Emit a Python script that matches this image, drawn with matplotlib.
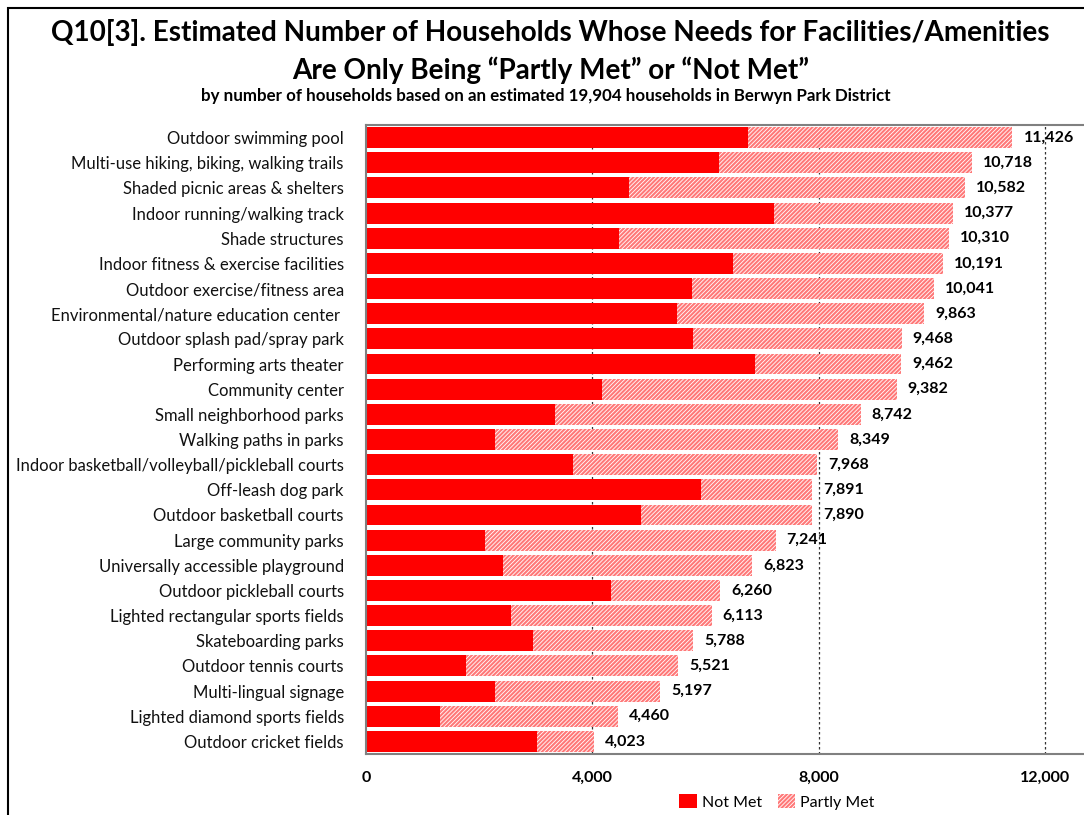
import matplotlib
matplotlib.use("Agg")
import matplotlib.pyplot as plt
from matplotlib.patches import Rectangle, Patch

plt.rcParams['font.family'] = ['Lato', 'DejaVu Sans']
plt.rcParams['hatch.linewidth'] = 0.6

categories = [
    "Outdoor swimming pool",
    "Multi-use hiking, biking, walking trails",
    "Shaded picnic areas & shelters",
    "Indoor running/walking track",
    "Shade structures",
    "Indoor fitness & exercise facilities",
    "Outdoor exercise/fitness area",
    "Environmental/nature education center ",
    "Outdoor splash pad/spray park",
    "Performing arts theater",
    "Community center",
    "Small neighborhood parks",
    "Walking paths in parks",
    "Indoor basketball/volleyball/pickleball courts",
    "Off-leash dog park",
    "Outdoor basketball courts",
    "Large community parks",
    "Universally accessible playground",
    "Outdoor pickleball courts",
    "Lighted rectangular sports fields",
    "Skateboarding parks",
    "Outdoor tennis courts",
    "Multi-lingual signage",
    "Lighted diamond sports fields",
    "Outdoor cricket fields",
]
not_met = [6746, 6234, 4650, 7205, 4468, 6493, 5757, 5504, 5775, 6881,
           4174, 3338, 2284, 3667, 5916, 4857, 2102, 2419, 4327, 2561,
           2949, 1760, 2284, 1301, 3014]
partly_met = [4680, 4484, 5932, 3172, 5842, 3698, 4284, 4359, 3693, 2581,
              5208, 5404, 6065, 4301, 1975, 3033, 5139, 4404, 1933, 3552,
              2839, 3761, 2913, 3159, 1009]
totals = [11426, 10718, 10582, 10377, 10310, 10191, 10041, 9863, 9468, 9462,
          9382, 8742, 8349, 7968, 7891, 7890, 7241, 6823, 6260, 6113,
          5788, 5521, 5197, 4460, 4023]
x_ticks = [0, 4000, 8000, 12000]
x_tick_labels = ["0", "4,000", "8,000", "12,000"]

RED = "#FF0000"
PINK = "#FF7878"
HATCH = "////////"

fig = plt.figure(figsize=(10.84, 8.15), dpi=100)
ax = fig.add_axes([366/1084, 1 - 754/815, 1 - 366/1084, (754 - 125)/815])

y = list(range(len(categories)))
ax.barh(y, not_met, height=0.83, color=RED, linewidth=0, zorder=2)
ax.barh(y, partly_met, left=not_met, height=0.83, facecolor=PINK,
        edgecolor="white", hatch=HATCH, linewidth=0, zorder=2)

for yi, tot in zip(y, totals):
    ax.annotate(f"{tot:,}", xy=(tot, yi), xytext=(11, 0),
                textcoords="offset pixels", ha="left", va="center",
                fontsize=11.5, fontweight="bold", color="black", zorder=3)

ax.set_ylim(len(categories) - 0.5, -0.5)
ax.set_xlim(0, 12690)
ax.set_yticks(y)
ax.set_yticklabels(categories, fontsize=12, color="#111111")
ax.set_xticks(x_ticks)
ax.set_xticklabels(x_tick_labels, fontsize=11.5, fontweight="bold")
ax.tick_params(axis="both", length=0)
ax.tick_params(axis="y", pad=16)
ax.tick_params(axis="x", pad=12)
for x in x_ticks[1:]:
    ax.axvline(x, color="#333333", linestyle=(0, (2, 2)), linewidth=0.9, zorder=1)
for s in ["top", "left", "bottom"]:
    ax.spines[s].set_color("#808080")
    ax.spines[s].set_linewidth(1.5)
ax.spines["right"].set_visible(False)

fig.text(0.508, 1 - 32/815, "Q10[3]. Estimated Number of Households Whose Needs for Facilities/Amenities",
         ha="center", va="center", fontsize=20.1, fontweight="bold")
fig.text(0.508, 1 - 70/815, "Are Only Being \u201cPartly Met\u201d or \u201cNot Met\u201d",
         ha="center", va="center", fontsize=20.1, fontweight="bold")
fig.text(0.503, 1 - 96/815, "by number of households based on an estimated 19,904 households in Berwyn Park District",
         ha="center", va="center", fontsize=12.2, fontweight="bold")

handles = [Patch(facecolor=RED, linewidth=0, label="Not Met"),
           Patch(facecolor=PINK, edgecolor="white", hatch=HATCH, linewidth=0, label="Partly Met")]
fig.legend(handles=handles, loc="center", bbox_to_anchor=(777/1084, 1 - 802/815),
           ncol=2, frameon=False, fontsize=11.5, handlelength=1.1, handleheight=1.0,
           handletextpad=0.3, columnspacing=1.0)

fig.patches.append(Rectangle((8/1084, -0.1), 1.2, 0.1 + 1 - 8/815, transform=fig.transFigure,
                             fill=False, edgecolor="black", linewidth=1.5, zorder=10))

fig.savefig("out.png", dpi=100)
